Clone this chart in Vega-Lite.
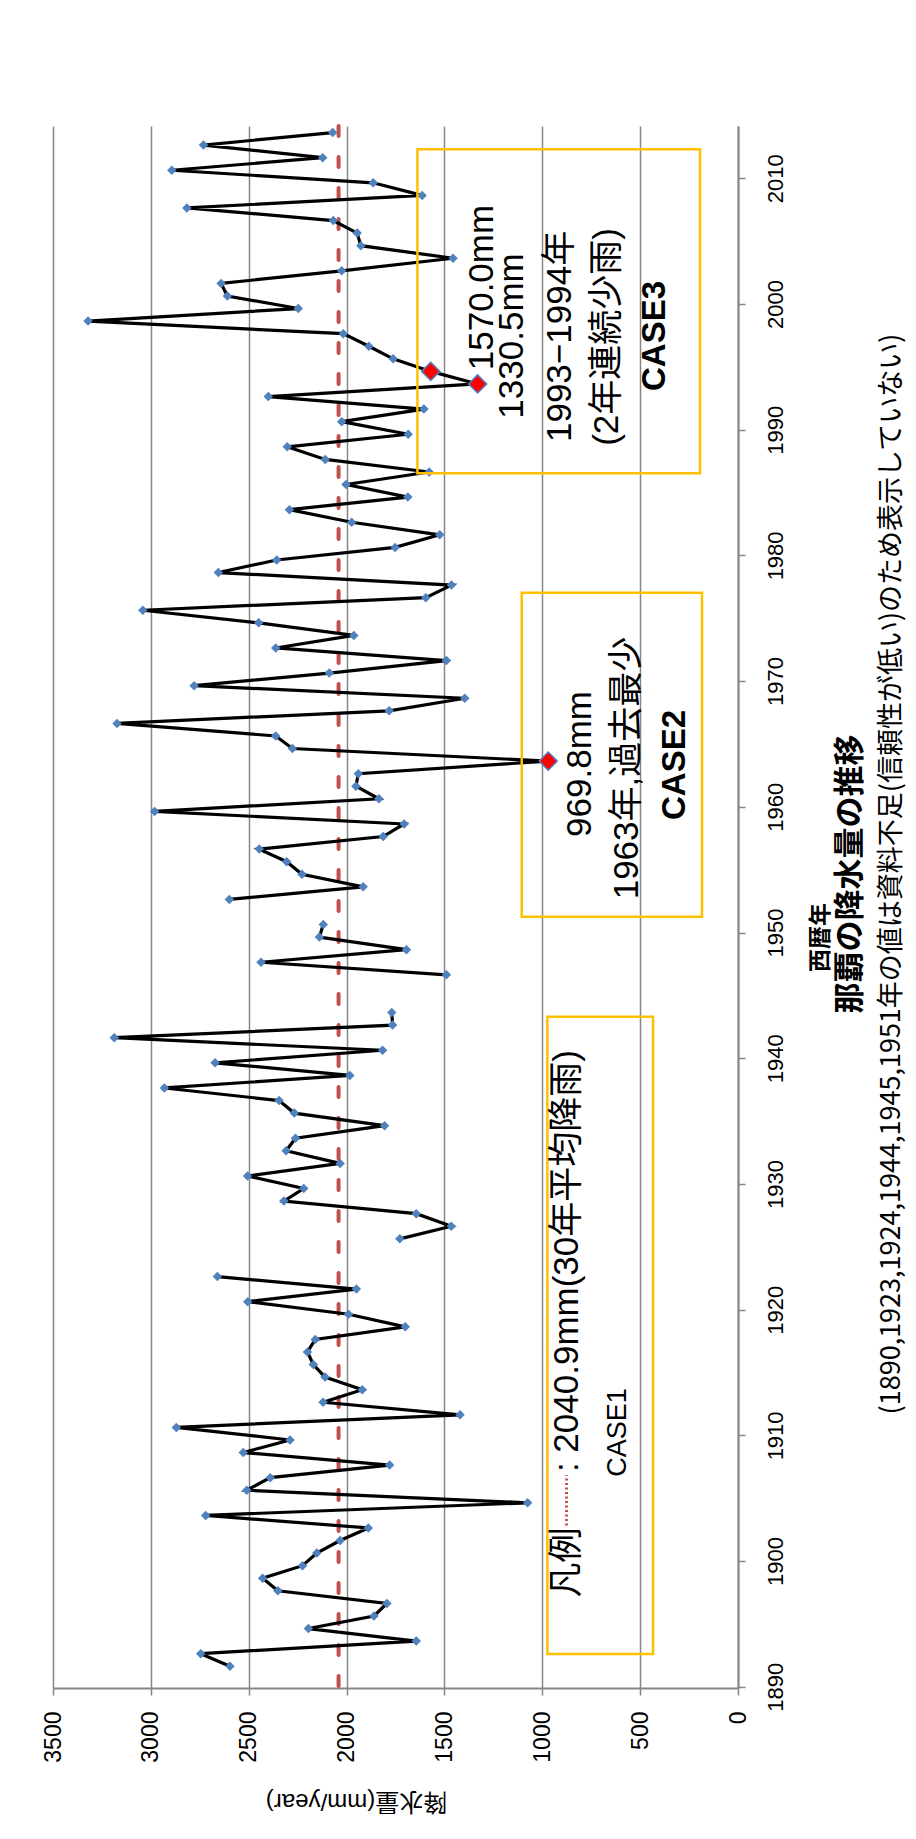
{
  "$schema": "https://vega.github.io/schema/vega-lite/v6.json",
  "width": 685,
  "height": 1562,
  "autosize": "none",
  "padding": {"left": 53, "top": 126, "right": 178, "bottom": 151},
  "background": "white",
  "config": {
    "view": {"stroke": null},
    "font": "Liberation Sans, 'Noto Sans CJK JP', sans-serif"
  },
  "title": {
    "text": "(1890,1923,1924,1944,1945,1951年の値は資料不足(信頼性が低い)のため表示していない)",
    "subtitle": "那覇の降水量の推移",
    "orient": "right",
    "anchor": "middle",
    "angle": 270,
    "align": "center",
    "baseline": "bottom",
    "dx": 33,
    "font": "'Noto Sans CJK JP', sans-serif",
    "fontSize": 27,
    "fontWeight": "normal",
    "color": "#000000",
    "subtitleFont": "'Noto Sans CJK JP', sans-serif",
    "subtitleFontSize": 31,
    "subtitleFontWeight": "bold",
    "subtitleColor": "#000000",
    "subtitlePadding": 12,
    "offset": 4
  },
  "datasets": {
    "rain": [
      {"year": 1890, "mm": null}, {"year": 1891, "mm": 2596}, {"year": 1892, "mm": 2745}, {"year": 1893, "mm": 1644},
      {"year": 1894, "mm": 2195}, {"year": 1895, "mm": 1860}, {"year": 1896, "mm": 1794}, {"year": 1897, "mm": 2351},
      {"year": 1898, "mm": 2429}, {"year": 1899, "mm": 2225}, {"year": 1900, "mm": 2152}, {"year": 1901, "mm": 2033},
      {"year": 1902, "mm": 1889}, {"year": 1903, "mm": 2720}, {"year": 1904, "mm": 1075}, {"year": 1905, "mm": 2510},
      {"year": 1906, "mm": 2390}, {"year": 1907, "mm": 1780}, {"year": 1908, "mm": 2528}, {"year": 1909, "mm": 2289},
      {"year": 1910, "mm": 2870}, {"year": 1911, "mm": 1420}, {"year": 1912, "mm": 2120}, {"year": 1913, "mm": 1920},
      {"year": 1914, "mm": 2110}, {"year": 1915, "mm": 2170}, {"year": 1916, "mm": 2200}, {"year": 1917, "mm": 2160},
      {"year": 1918, "mm": 1700}, {"year": 1919, "mm": 1990}, {"year": 1920, "mm": 2505}, {"year": 1921, "mm": 1950},
      {"year": 1922, "mm": 2660}, {"year": 1923, "mm": null}, {"year": 1924, "mm": null}, {"year": 1925, "mm": 1728},
      {"year": 1926, "mm": 1465}, {"year": 1927, "mm": 1644}, {"year": 1928, "mm": 2320}, {"year": 1929, "mm": 2219},
      {"year": 1930, "mm": 2506}, {"year": 1931, "mm": 2033}, {"year": 1932, "mm": 2309}, {"year": 1933, "mm": 2261},
      {"year": 1934, "mm": 1806}, {"year": 1935, "mm": 2267}, {"year": 1936, "mm": 2345}, {"year": 1937, "mm": 2931},
      {"year": 1938, "mm": 1983}, {"year": 1939, "mm": 2672}, {"year": 1940, "mm": 1816}, {"year": 1941, "mm": 3187},
      {"year": 1942, "mm": 1765}, {"year": 1943, "mm": 1769}, {"year": 1944, "mm": null}, {"year": 1945, "mm": null},
      {"year": 1946, "mm": 1490}, {"year": 1947, "mm": 2437}, {"year": 1948, "mm": 1694}, {"year": 1949, "mm": 2139},
      {"year": 1950, "mm": 2119}, {"year": 1951, "mm": null}, {"year": 1952, "mm": 2599}, {"year": 1953, "mm": 1915},
      {"year": 1954, "mm": 2228}, {"year": 1955, "mm": 2306}, {"year": 1956, "mm": 2446}, {"year": 1957, "mm": 1813},
      {"year": 1958, "mm": 1706}, {"year": 1959, "mm": 2981}, {"year": 1960, "mm": 1835}, {"year": 1961, "mm": 1952},
      {"year": 1962, "mm": 1940}, {"year": 1963, "mm": 969.8}, {"year": 1964, "mm": 2277}, {"year": 1965, "mm": 2362},
      {"year": 1966, "mm": 3173}, {"year": 1967, "mm": 1782}, {"year": 1968, "mm": 1396}, {"year": 1969, "mm": 2779},
      {"year": 1970, "mm": 2088}, {"year": 1971, "mm": 1490}, {"year": 1972, "mm": 2362}, {"year": 1973, "mm": 1963},
      {"year": 1974, "mm": 2449}, {"year": 1975, "mm": 3041}, {"year": 1976, "mm": 1595}, {"year": 1977, "mm": 1464},
      {"year": 1978, "mm": 2655}, {"year": 1979, "mm": 2357}, {"year": 1980, "mm": 1752}, {"year": 1981, "mm": 1524},
      {"year": 1982, "mm": 1974}, {"year": 1983, "mm": 2292}, {"year": 1984, "mm": 1687}, {"year": 1985, "mm": 2003},
      {"year": 1986, "mm": 1578}, {"year": 1987, "mm": 2109}, {"year": 1988, "mm": 2303}, {"year": 1989, "mm": 1685},
      {"year": 1990, "mm": 2025}, {"year": 1991, "mm": 1605}, {"year": 1992, "mm": 2400}, {"year": 1993, "mm": 1330.5},
      {"year": 1994, "mm": 1570.0}, {"year": 1995, "mm": 1762}, {"year": 1996, "mm": 1886}, {"year": 1997, "mm": 2017},
      {"year": 1998, "mm": 3321}, {"year": 1999, "mm": 2247}, {"year": 2000, "mm": 2609}, {"year": 2001, "mm": 2641},
      {"year": 2002, "mm": 2025}, {"year": 2003, "mm": 1456}, {"year": 2004, "mm": 1927}, {"year": 2005, "mm": 1946},
      {"year": 2006, "mm": 2068}, {"year": 2007, "mm": 2816}, {"year": 2008, "mm": 1614}, {"year": 2009, "mm": 1864},
      {"year": 2010, "mm": 2893}, {"year": 2011, "mm": 2122}, {"year": 2012, "mm": 2731}, {"year": 2013, "mm": 2071}
    ],
    "boxes": [
      {"mm": 974, "mm2": 434, "year": 1891.97, "year2": 1942.67},
      {"mm": 1105, "mm2": 184, "year": 1950.62, "year2": 1976.39},
      {"mm": 1638, "mm2": 194, "year": 1985.89, "year2": 2011.67}
    ],
    "notes": [
      {"label": "969.8mm", "mm": 807, "year": 1962.77},
      {"label": "1963年,過去最少", "mm": 569, "year": 1962.45},
      {"label": "1570.0mm", "mm": 1310, "year": 2000.67},
      {"label": "1330.5mm", "mm": 1156, "year": 1996.82},
      {"label": "1993−1994年", "mm": 910, "year": 1996.78},
      {"label": "(2年連続少雨)", "mm": 671, "year": 1996.74},
      {"label": "凡例", "mm": 876, "year": 1899.25},
      {"label": ": 2040.9mm(30年平均降雨)", "mm": 876, "year": 1923.23}
    ],
    "smallnotes": [
      {"label": "CASE1", "mm": 613, "year": 1909.6}
    ],
    "cases": [
      {"label": "CASE2", "mm": 322, "year": 1962.69},
      {"label": "CASE3", "mm": 424, "year": 1996.82}
    ],
    "average": [{"mm": 2040.9}],
    "legendline": [{"mm": 876, "year": 1902.2, "year2": 1906.2}]
  },
  "layer": [
    {
      "data": {"name": "average"},
      "mark": {"type": "rule", "color": "#C0504D", "strokeWidth": 4, "strokeDash": [10, 21], "strokeCap": "round"},
      "encoding": {
        "x": {"field": "mm", "type": "quantitative", "scale": {"domain": [0, 3500], "reverse": true, "nice": false, "zero": false}}
      }
    },
    {
      "data": {"name": "rain"},
      "mark": {"type": "line", "color": "#000000", "strokeWidth": 3.2, "invalid": "break-paths-filter-domains"},
      "encoding": {
        "x": {
          "field": "mm", "type": "quantitative",
          "scale": {"domain": [0, 3500], "reverse": true, "nice": false, "zero": false},
          "axis": {
            "orient": "bottom",
            "values": [0, 500, 1000, 1500, 2000, 2500, 3000, 3500],
            "format": "d",
            "grid": true, "gridColor": "#868686", "gridWidth": 1.5,
            "domainColor": "#868686", "domainWidth": 2,
            "tickColor": "#868686", "tickSize": 7, "tickWidth": 1.5,
            "labelAngle": 270, "labelAlign": "right", "labelBaseline": "middle",
            "labelPadding": 16, "labelFontSize": 23, "labelColor": "#000000",
            "labelFlush": false, "labelOverlap": false,
            "title": "降水量(mm/year)", "titleAngle": 180, "titleFontSize": 24,
            "titleFontWeight": "normal", "titleColor": "#000000",
            "titleX": 303, "titleY": 112, "titleAlign": "center", "titleBaseline": "middle"
          }
        },
        "y": {
          "field": "year", "type": "quantitative",
          "scale": {"domain": [1889.27, 2013.52], "nice": false, "zero": false},
          "axis": {
            "orient": "right",
            "values": [1890, 1900, 1910, 1920, 1930, 1940, 1950, 1960, 1970, 1980, 1990, 2000, 2010],
            "format": "d",
            "grid": false,
            "domainColor": "#868686", "domainWidth": 2,
            "tickColor": "#868686", "tickSize": 7, "tickWidth": 1.5, "tickOffset": 8,
            "labelAngle": 270, "labelAlign": "center", "labelBaseline": "top",
            "labelPadding": 20, "labelFontSize": 22, "labelColor": "#000000",
            "labelFlush": false, "labelOverlap": false,
            "title": "西暦年", "titleAngle": 270, "titleFontSize": 23,
            "titleFontWeight": "bold", "titleColor": "#000000",
            "titleX": 82, "titleY": 811, "titleAlign": "center", "titleBaseline": "middle"
          }
        },
        "order": {"field": "year", "type": "quantitative"}
      }
    },
    {
      "data": {"name": "rain"},
      "mark": {"type": "point", "shape": "diamond", "filled": true, "color": "#4F81BD", "size": 90, "opacity": 1, "invalid": "filter"},
      "encoding": {
        "x": {"field": "mm", "type": "quantitative", "scale": {"domain": [0, 3500], "reverse": true, "nice": false, "zero": false}},
        "y": {"field": "year", "type": "quantitative", "scale": {"domain": [1889.27, 2013.52], "nice": false, "zero": false}}
      }
    },
    {
      "data": {"name": "rain"},
      "transform": [{"filter": {"field": "year", "oneOf": [1963, 1993, 1994]}}],
      "mark": {"type": "point", "shape": "diamond", "filled": true, "fill": "#FF0000", "stroke": "#4F81BD", "strokeWidth": 1.5, "size": 330, "opacity": 1},
      "encoding": {
        "x": {"field": "mm", "type": "quantitative", "scale": {"domain": [0, 3500], "reverse": true, "nice": false, "zero": false}},
        "y": {"field": "year", "type": "quantitative", "scale": {"domain": [1889.27, 2013.52], "nice": false, "zero": false}}
      }
    },
    {
      "data": {"name": "boxes"},
      "mark": {"type": "rect", "filled": false, "stroke": "#FFC000", "strokeWidth": 2.5},
      "encoding": {
        "x": {"field": "mm", "type": "quantitative", "scale": {"domain": [0, 3500], "reverse": true, "nice": false, "zero": false}},
        "x2": {"field": "mm2"},
        "y": {"field": "year", "type": "quantitative", "scale": {"domain": [1889.27, 2013.52], "nice": false, "zero": false}},
        "y2": {"field": "year2"}
      }
    },
    {
      "data": {"name": "legendline"},
      "mark": {"type": "rule", "color": "#C0504D", "strokeWidth": 3, "strokeDash": [2, 2.5]},
      "encoding": {
        "x": {"field": "mm", "type": "quantitative", "scale": {"domain": [0, 3500], "reverse": true, "nice": false, "zero": false}},
        "y": {"field": "year", "type": "quantitative", "scale": {"domain": [1889.27, 2013.52], "nice": false, "zero": false}},
        "y2": {"field": "year2"}
      }
    },
    {
      "data": {"name": "notes"},
      "mark": {"type": "text", "angle": 270, "align": "center", "baseline": "middle", "fontSize": 35, "color": "#000000", "font": "Liberation Sans, 'Noto Sans CJK JP', sans-serif"},
      "encoding": {
        "x": {"field": "mm", "type": "quantitative", "scale": {"domain": [0, 3500], "reverse": true, "nice": false, "zero": false}},
        "y": {"field": "year", "type": "quantitative", "scale": {"domain": [1889.27, 2013.52], "nice": false, "zero": false}},
        "text": {"field": "label"}
      }
    },
    {
      "data": {"name": "smallnotes"},
      "mark": {"type": "text", "angle": 270, "align": "center", "baseline": "middle", "fontSize": 27, "color": "#000000", "font": "Liberation Sans, 'Noto Sans CJK JP', sans-serif"},
      "encoding": {
        "x": {"field": "mm", "type": "quantitative", "scale": {"domain": [0, 3500], "reverse": true, "nice": false, "zero": false}},
        "y": {"field": "year", "type": "quantitative", "scale": {"domain": [1889.27, 2013.52], "nice": false, "zero": false}},
        "text": {"field": "label"}
      }
    },
    {
      "data": {"name": "cases"},
      "mark": {"type": "text", "angle": 270, "align": "center", "baseline": "middle", "fontSize": 33, "fontWeight": "bold", "color": "#000000", "font": "Liberation Sans, 'Noto Sans CJK JP', sans-serif"},
      "encoding": {
        "x": {"field": "mm", "type": "quantitative", "scale": {"domain": [0, 3500], "reverse": true, "nice": false, "zero": false}},
        "y": {"field": "year", "type": "quantitative", "scale": {"domain": [1889.27, 2013.52], "nice": false, "zero": false}},
        "text": {"field": "label"}
      }
    }
  ]
}
